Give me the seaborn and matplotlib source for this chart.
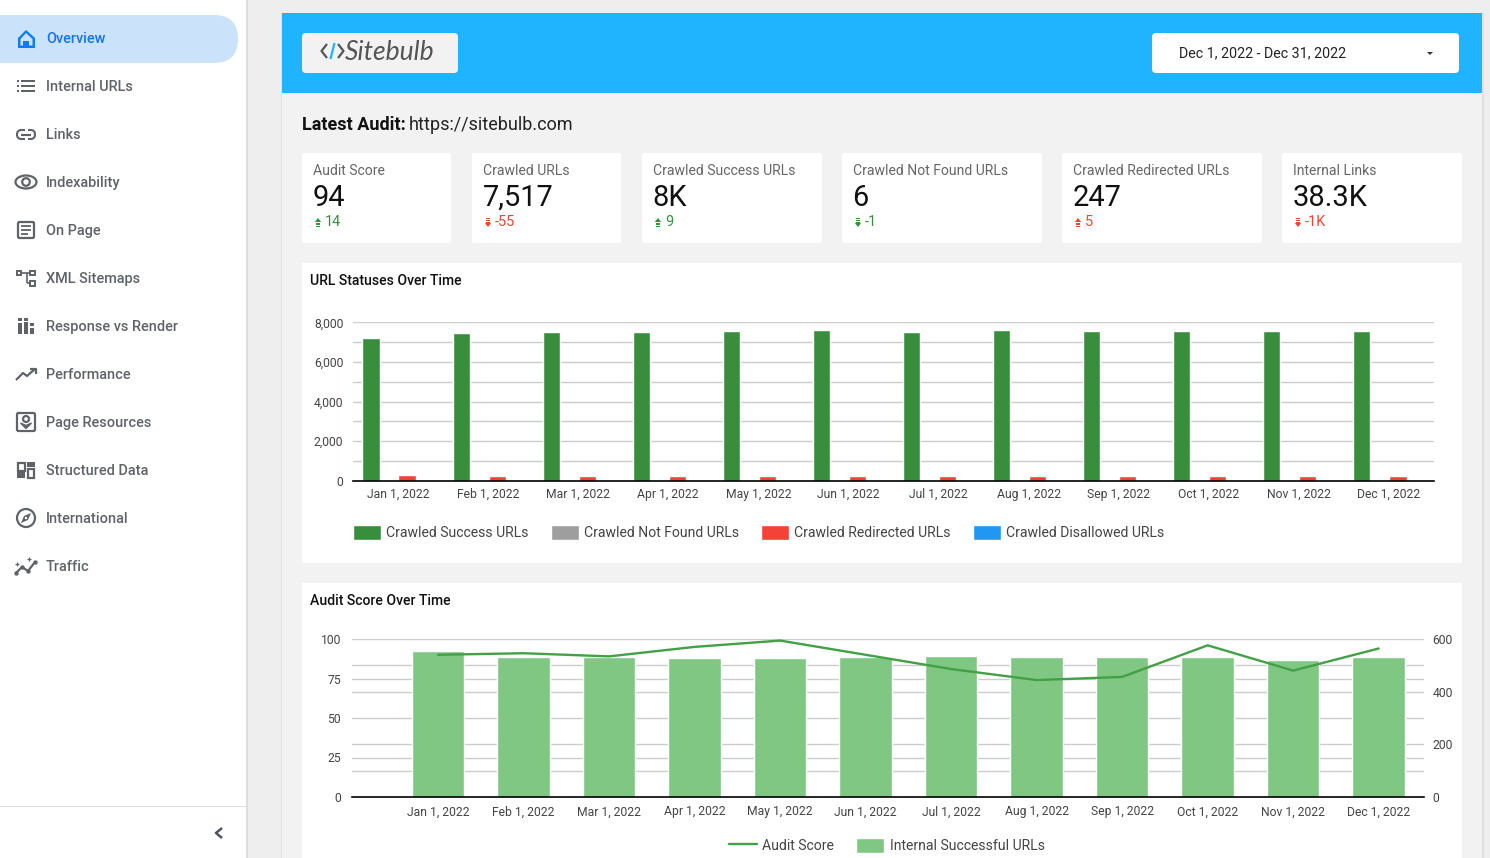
import matplotlib
matplotlib.use("Agg")
import matplotlib.pyplot as plt
import pandas as pd
import seaborn as sns
from matplotlib.lines import Line2D
from matplotlib.patches import Circle, Ellipse, FancyBboxPatch, Polygon, Rectangle
from matplotlib.ticker import FixedLocator, FuncFormatter

W, H = 1490, 858

# chart data
months = ["Jan 1, 2022", "Feb 1, 2022", "Mar 1, 2022", "Apr 1, 2022", "May 1, 2022", "Jun 1, 2022",
          "Jul 1, 2022", "Aug 1, 2022", "Sep 1, 2022", "Oct 1, 2022", "Nov 1, 2022", "Dec 1, 2022"]
crawled_success = [7210, 7460, 7510, 7510, 7560, 7610, 7510, 7610, 7560, 7560, 7560, 7560]
crawled_not_found = [30, 10, 8, 8, 8, 7, 7, 7, 7, 7, 7, 6]
crawled_redirected = [300, 245, 245, 245, 242, 242, 242, 242, 242, 242, 242, 247]
crawled_disallowed = [12, 10, 10, 10, 10, 10, 10, 10, 10, 10, 10, 10]
audit_score = [90, 91, 89, 95, 99, 90, 81, 74, 76, 96, 80, 94]
internal_successful = [556, 530, 530, 526, 526, 530, 537, 533, 533, 533, 521, 530]

# page text
nav_items = ["Overview", "Internal URLs", "Links", "Indexability", "On Page", "XML Sitemaps",
             "Response vs Render", "Performance", "Page Resources", "Structured Data",
             "International", "Traffic"]
card_titles = ["Audit Score", "Crawled URLs", "Crawled Success URLs", "Crawled Not Found URLs",
               "Crawled Redirected URLs", "Internal Links"]
card_values = ["94", "7,517", "8K", "6", "247", "38.3K"]
card_deltas = ["14", "-55", "9", "-1", "5", "-1K"]
card_lefts = [302, 472, 642, 842, 1062, 1282]
card_rights = [451, 621, 822, 1042, 1262, 1462]
card_colors = ["g", "r", "g", "g", "r", "r"]

GRAY = "#5f6368"
BLUE = "#1a73e8"
GREEN = "#388e3c"
RED = "#f44336"
GRID = "#cccccc"
TICK = "#444444"

sns.set_theme(style="white")
plt.rcParams["font.family"] = ["Roboto", "DejaVu Sans"]

fig = plt.figure(figsize=(W / 100, H / 100), dpi=100, facecolor="#eeeeee")

# background layer, one data unit is one pixel
bg = fig.add_axes([0, 0, 1, 1], zorder=-1)
bg.set_xlim(0, W)
bg.set_ylim(H, 0)
bg.axis("off")


def rect(x0, y0, x1, y1, color, **kw):
    bg.add_patch(Rectangle((x0, y0), x1 - x0, y1 - y0, fc=color, ec="none", **kw))


def rrect(x0, y0, x1, y1, color, r=4):
    bg.add_patch(FancyBboxPatch((x0, y0), x1 - x0, y1 - y0, boxstyle=f"round,pad=0,rounding_size={r}",
                                fc=color, ec="none"))


def stroke(xs, ys, color=GRAY, lw=1.5):
    bg.add_line(Line2D(xs, ys, color=color, lw=lw, solid_capstyle="butt"))


def label(x, y, s, px=14, color="#333333", ha="left", weight="normal", **kw):
    # text sits about a pixel low in the reference
    return bg.text(x, y + 1, s, fontsize=px * 0.72, color=color, ha=ha, va="center", weight=weight, **kw)


def outline(x0, y0, x1, y1, color=GRAY, lw=1.4):
    bg.add_patch(Rectangle((x0, y0), x1 - x0, y1 - y0, fc="none", ec=color, lw=lw))


def icon_home(c):
    bg.add_patch(Polygon([(26, 30), (35, 38), (35, 48), (18, 48), (18, 38)], fc=c, ec="none"))
    bg.add_patch(Polygon([(26, 33), (32.5, 39), (32.5, 45.5), (20.5, 45.5), (20.5, 39)], fc="#cbe2fb", ec="none"))
    rect(23, 41, 29, 48, c)


def icon_list(y):
    for dy in (-5, 0, 5):
        rect(17, y + dy - 1, 19, y + dy + 1, GRAY)
        rect(21, y + dy - 1, 35, y + dy + 1, GRAY)


def icon_link(y):
    y = y + 0.5
    bg.add_patch(FancyBboxPatch((17, y - 4.5), 18, 9, boxstyle="round,pad=0,rounding_size=4.5",
                                fc="none", ec=GRAY, lw=1.5))
    rect(24.5, y - 6, 27.5, y + 6, "white")
    stroke([21, 31], [y, y])


def icon_eye(y):
    bg.add_patch(Ellipse((26, y), 21, 13, fc="none", ec=GRAY, lw=1.6))
    bg.add_patch(Circle((26, y), 3.8, fc="none", ec=GRAY, lw=1.6))


def icon_page(y):
    bg.add_patch(FancyBboxPatch((18, y - 8), 16, 16, boxstyle="round,pad=0,rounding_size=1.5",
                                fc="none", ec=GRAY, lw=1.6))
    for dy, x1 in ((-4, 31), (0, 31), (4, 28)):
        stroke([21, x1], [y + dy, y + dy], lw=1.3)


def icon_sitemap(y):
    outline(17, y - 7, 21, y - 3)
    outline(30, y - 7, 35, y - 3)
    outline(30, y + 3, 35, y + 8)
    stroke([21, 30], [y - 5, y - 5], lw=1.2)
    stroke([27, 27], [y - 5, y + 5], lw=1.2)
    stroke([27, 30], [y + 5, y + 5], lw=1.2)


def icon_bars(y):
    for x0, y0, y1 in ((18, -8, -5), (18, -3, 8), (24, -4, 8), (30, -3, 0), (30, 2, 8)):
        rect(x0, y + y0, x0 + 4, y + y1, GRAY)
    rect(24, y - 8, 28, y - 5.5, GRAY)


def icon_trend(y):
    stroke([16, 23, 27, 35], [y + 6, y - 1, y + 2, y - 5], lw=1.6)
    stroke([30, 35.5, 35.5], [y - 5, y - 5, y], lw=1.6)


def icon_resources(y):
    bg.add_patch(FancyBboxPatch((17, y - 9), 18, 18, boxstyle="round,pad=0,rounding_size=1.5",
                                fc="none", ec=GRAY, lw=1.6))
    bg.add_patch(Circle((26, y - 3), 3, fc="none", ec=GRAY, lw=1.6))
    bg.add_patch(Polygon([(20.5, y + 1), (26, y + 6.5), (31.5, y + 1), (26, y + 3.5)], fc=GRAY, ec=GRAY, lw=1))


def icon_structured(y):
    outline(18, y - 7.5, 25, y + 0.5, lw=1.6)
    rect(27, y - 8, 35, y - 3, GRAY)
    rect(17, y + 2, 25, y + 8, GRAY)
    outline(28, y - 1, 34, y + 8, lw=1.6)


def icon_compass(y):
    bg.add_patch(Circle((26, y), 9, fc="none", ec=GRAY, lw=1.6))
    bg.add_patch(Polygon([(31, y - 5), (28, y + 2), (21, y + 5), (24, y - 2)], fc=GRAY, ec="none"))
    bg.add_patch(Circle((26, y), 1.2, fc="white", ec="none"))


def icon_traffic(y):
    xs, ys = [16, 22, 28, 35], [y + 7, y + 1, y + 5, y - 4]
    stroke(xs, ys, lw=1.6)
    bg.scatter(xs, ys, s=10, color=GRAY, zorder=3, linewidths=0)
    for sx, sy in ((17, y - 2), (29, y - 7)):
        stroke([sx - 2, sx + 2], [sy, sy], lw=0.9)
        stroke([sx, sx], [sy - 2, sy + 2], lw=0.9)


def delta_arrow(x, y, color, up=True):
    tip, base = (y - 4.5, y - 0.5) if up else (y + 4.5, y + 0.5)
    bg.add_patch(Polygon([(x, tip), (x - 3.2, base), (x + 3.2, base)], fc=color, ec="none"))
    for dy in (0.5, 2.2, 3.9):
        yy = y + dy if up else y - dy
        rect(x - 1.7, yy - 0.5, x + 1.7, yy + 0.5, color)


# page chrome
rect(0, 0, 246, H, "white")
rect(246, 0, 247.5, H, "#dddddd")
rect(0, 806, 246, 807, "#dddddd")
stroke([222, 216, 222], [828, 833, 838], color="#4b5563", lw=1.8)
rrect(-40, 15, 238, 63, "#cbe2fb", r=24)

rect(280.5, 13, 1483.5, H, "#e0e0e0")
rect(282, 13, 1482, H, "#f2f2f2")
rect(282, 13, 1482, 93, "#20b4ff")
rrect(302, 33, 458, 73, "#f2f2f2")
rrect(1152, 33, 1459, 73, "white")

# logo
stroke([327, 321.5, 327], [44, 51, 58], color="#555555", lw=1.6)
stroke([338, 343.5, 338], [44, 51, 58], color="#555555", lw=1.6)
stroke([330.5, 334.5], [59, 43], color="#20b4ff", lw=1.6)
label(345, 51, "Sitebulb", px=26.5, color="#555555", style="italic", family=["Lato", "DejaVu Sans"])

label(1179, 52.5, "Dec 1, 2022 - Dec 31, 2022", px=14.2, color="#222222")
bg.add_patch(Polygon([(1427, 52), (1433, 52), (1430, 55)], fc="#333333", ec="none"))

label(302, 123.8, "Latest Audit:", px=18, color="#111111", weight="bold")
label(409, 123.8, "https://sitebulb.com", px=18, color="#222222")

# sidebar
for i, name in enumerate(nav_items):
    y = 38 + i * 48
    label(46, y, name, px=14.5, color=BLUE if i == 0 else GRAY, weight="medium")
icon_home("#0a7cf5")
icon_list(86)
icon_link(134)
icon_eye(182)
icon_page(230)
icon_sitemap(278)
icon_bars(326)
icon_trend(374)
icon_resources(422)
icon_structured(470)
icon_compass(518)
icon_traffic(566)

# scorecards
for i, title in enumerate(card_titles):
    x0, x1 = card_lefts[i], card_rights[i]
    rrect(x0, 153, x1, 243, "white", r=2)
    label(x0 + 10.8, 170, title, px=14, color="#666666")
    label(x0 + 10.5, 197, card_values[i], px=29, color="#111111")
    color = "#388e3c" if card_colors[i] == "g" else RED
    delta = card_deltas[i]
    delta_arrow(x0 + 16, 222.5, color, up=not delta.startswith("-"))
    label(x0 + 23, 221, delta, px=14.5, color=color)

# chart panels
rrect(302, 263, 1462, 563, "white", r=1)
rrect(302, 583, 1462, 870, "white", r=1)
label(309.5, 280, "URL Statuses Over Time", px=14, color="#111111", weight="medium")
label(309.5, 600, "Audit Score Over Time", px=14, color="#111111", weight="medium")


def axes_px(x0, y0, x1, y1):
    return fig.add_axes([x0 / W, 1 - y1 / H, (x1 - x0) / W, (y1 - y0) / H], facecolor="none")


def style_axis(ax):
    sns.despine(ax=ax, left=True, right=True, top=True)
    ax.spines["bottom"].set_color("#000000")
    ax.spines["bottom"].set_linewidth(1.2)
    ax.spines["bottom"].set_zorder(6)
    ax.set_xlabel("")
    ax.set_ylabel("")


legend_kw = dict(bbox_transform=fig.transFigure, frameon=False, fontsize=10.1, labelcolor="#444444", borderpad=0,
                 borderaxespad=0, handlelength=2, handleheight=1.3, handletextpad=0.36, columnspacing=1.6)

# URL statuses
status_names = ["Crawled Success URLs", "Crawled Not Found URLs", "Crawled Redirected URLs", "Crawled Disallowed URLs"]
status_colors = [GREEN, "#9e9e9e", RED, "#2196f3"]
status_df = pd.DataFrame({"month": months, status_names[0]: crawled_success, status_names[1]: crawled_not_found,
                          status_names[2]: crawled_redirected, status_names[3]: crawled_disallowed})
status_long = status_df.melt(id_vars="month", var_name="series", value_name="urls")

ax1 = axes_px(353, 322.3, 1434, 480.7)
sns.barplot(data=status_long, x="month", y="urls", hue="series", hue_order=status_names, palette=status_colors,
            width=0.8, gap=0.05, saturation=1, ax=ax1, zorder=3)
ax1.set_xlim(-0.5, 11.5)
ax1.set_ylim(0, 8000)
ax1.yaxis.set_major_locator(FixedLocator([0, 2000, 4000, 6000, 8000]))
ax1.yaxis.set_minor_locator(FixedLocator([1000, 3000, 5000, 7000]))
ax1.yaxis.set_major_formatter(FuncFormatter(lambda v, _: f"{int(v):,}"))
ax1.grid(True, axis="y", which="both", color=GRID, lw=1)
ax1.set_axisbelow(True)
ax1.tick_params(axis="both", which="both", length=0, labelsize=8.75, labelcolor=TICK)
ax1.tick_params(axis="y", pad=7)
ax1.tick_params(axis="x", pad=5)
style_axis(ax1)
handles, labels = ax1.get_legend_handles_labels()
ax1.legend(handles, labels, ncol=4, loc="center left", bbox_to_anchor=(352.5 / W, 1 - 532.5 / H), **legend_kw)

# audit score
score_df = pd.DataFrame({"month": months, "Audit Score": audit_score, "Internal Successful URLs": internal_successful})

ax_score = axes_px(352, 639, 1424, 797)
ax_urls = ax_score.twinx()
ax_urls.set_facecolor("none")
sns.barplot(data=score_df, x="month", y="Internal Successful URLs", color="#81c784", saturation=1, width=0.615,
            ax=ax_urls, zorder=3, label="Internal Successful URLs")
sns.lineplot(data=score_df, x="month", y="Audit Score", color="#43a047", lw=1.7, sort=False, errorbar=None,
             ax=ax_score, label="Audit Score")
ax_score.set_zorder(ax_urls.get_zorder() + 1)
ax_score.patch.set_visible(False)
ax_score.set_xlim(-1.006, 11.53)
ax_score.set_ylim(0, 100)
ax_urls.set_ylim(0, 600)
ax_score.set_yticks([0, 25, 50, 75, 100])
ax_urls.yaxis.set_major_locator(FixedLocator([0, 200, 400, 600]))
ax_urls.yaxis.set_minor_locator(FixedLocator([100, 150, 300, 450, 500]))
ax_urls.grid(True, axis="y", which="both", color=GRID, lw=1)
ax_urls.set_axisbelow(True)
ax_score.grid(False)
for ax in (ax_score, ax_urls):
    ax.tick_params(axis="both", which="both", length=0, labelsize=8.75, labelcolor=TICK)
    ax.tick_params(axis="x", pad=6)
    style_axis(ax)
ax_score.tick_params(axis="y", pad=8)
ax_urls.tick_params(axis="y", pad=6)
ax_urls.spines["bottom"].set_visible(False)

line_h, line_l = ax_score.get_legend_handles_labels()
bar_h, bar_l = ax_urls.get_legend_handles_labels()
if ax_urls.get_legend():
    ax_urls.get_legend().remove()
ax_score.legend(line_h + bar_h, line_l + bar_l, ncol=2, loc="center left", bbox_to_anchor=(729 / W, 1 - 845.5 / H),
                **legend_kw)

fig.savefig("out.png", dpi=100, facecolor=fig.get_facecolor())
